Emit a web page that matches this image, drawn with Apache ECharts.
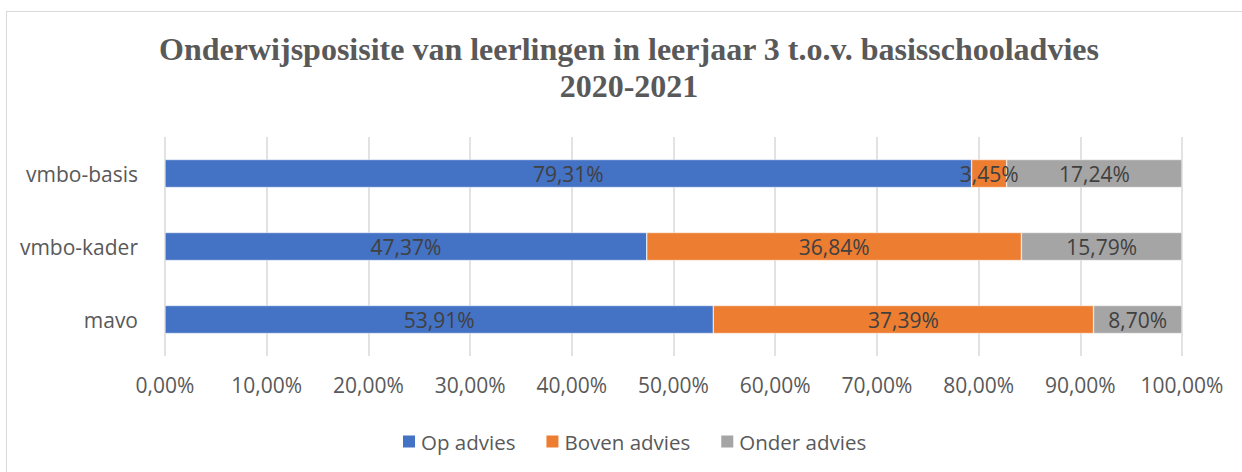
<!DOCTYPE html>
<html>
<head>
<meta charset="utf-8">
<script src="https://cdn.jsdelivr.net/npm/echarts@6/dist/echarts.min.js"></script>
<style>
  body { margin: 0; background: #fff; }
  #chart { position: absolute; left: 0; top: 0; width: 1242px; height: 472px; }
  #frame { position: absolute; left: 6px; top: 11px; width: 1300px; height: 500px;
           border: 1px solid #d9d9d9; pointer-events: none; }
</style>
</head>
<body>
<div id="chart"></div>
<div id="frame"></div>
<script>
// categories bottom -> top, as the category axis draws them
const categories = ['mavo', 'vmbo-kader', 'vmbo-basis']
const opAdvies = [53.91, 47.37, 79.31]
const bovenAdvies = [37.39, 36.84, 3.45]
const onderAdvies = [8.70, 15.79, 17.24]

const fmt = v => v.toFixed(2).replace('.', ',') + '%'
const labelFont = 'Open Sans'

const makeSeries = (name, data, color) => ({
  name,
  type: 'bar',
  stack: 'total',
  data,
  barWidth: 28,
  itemStyle: {color, borderColor: '#fff', borderWidth: 0.5},
  label: {
    show: true,
    position: 'inside',
    color: '#404040',
    fontFamily: labelFont,
    fontSize: 21,
    formatter: p => fmt(p.value)
  }
})

const chart = echarts.init(document.getElementById('chart'), null, {renderer: 'svg'})
chart.setOption({
  animation: false,
  title: {
    text: 'Onderwijsposisite van leerlingen in leerjaar 3 t.o.v. basisschooladvies\n2020-2021',
    left: 624,
    top: 25,
    textAlign: 'center',
    textStyle: {
      fontFamily: 'Liberation Serif',
      fontWeight: 'bold',
      fontSize: 32,
      lineHeight: 37,
      color: '#595959'
    }
  },
  legend: {
    left: 396,
    top: 426,
    itemWidth: 14,
    itemHeight: 14,
    itemGap: 29,
    icon: 'rect',
    textStyle: {fontFamily: labelFont, fontSize: 20.5, color: '#595959'}
  },
  grid: {left: 165, right: 60, top: 137, bottom: 116},
  xAxis: {
    type: 'value',
    min: 0,
    max: 100,
    interval: 10,
    axisLine: {show: false},
    axisTick: {show: false},
    splitLine: {lineStyle: {color: '#d9d9d9', width: 1.5}},
    axisLabel: {
      margin: 18,
      color: '#595959',
      fontFamily: labelFont,
      fontSize: 21,
      formatter: v => fmt(v)
    }
  },
  yAxis: {
    type: 'category',
    data: categories,
    axisLine: {show: false},
    axisTick: {show: false},
    axisLabel: {margin: 27, color: '#595959', fontFamily: labelFont, fontSize: 21}
  },
  series: [
    makeSeries('Op advies', opAdvies, '#4472c4'),
    makeSeries('Boven advies', bovenAdvies, '#ed7d31'),
    makeSeries('Onder advies', onderAdvies, '#a5a5a5')
  ]
})
</script>
</body>
</html>
